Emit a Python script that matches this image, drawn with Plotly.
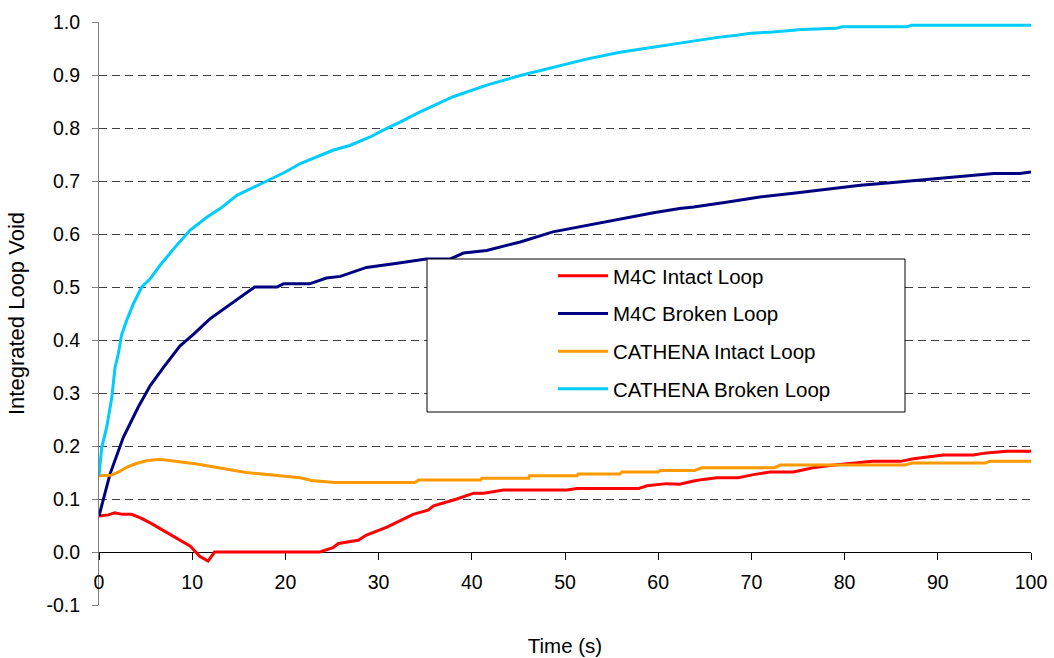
import plotly.graph_objects as go

# ---- data -------------------------------------------------------------
# M4C Intact Loop
m4c_intact_t = [0, 1, 1.7, 2.5, 3.5, 4.5, 5.5, 6.4, 7.3, 8.5, 9.8, 10.8, 11.7, 12.4,
                23.7, 25.1, 25.7, 27.8, 28.7, 30.9, 32.3, 33.7, 35.3, 35.9, 38.4, 40.2,
                41.3, 43.4, 50.2, 51.3, 57.9, 58.8, 60.9, 62.3, 63.8, 64.8, 66.3, 68.6,
                70.2, 72, 74.5, 76.6, 78.4, 80.9, 83, 86, 87.4, 90.6, 93.8, 95.2, 97.4, 100]
m4c_intact_v = [0.068, 0.070, 0.074, 0.071, 0.071, 0.064, 0.055, 0.046, 0.036, 0.025,
                0.011, -0.008, -0.017, 0.0, 0.0, 0.008, 0.016, 0.022, 0.032, 0.047,
                0.059, 0.071, 0.079, 0.087, 0.100, 0.111, 0.111, 0.117, 0.117, 0.120,
                0.120, 0.125, 0.129, 0.128, 0.134, 0.137, 0.140, 0.140, 0.146, 0.151,
                0.151, 0.159, 0.163, 0.167, 0.171, 0.171, 0.176, 0.183, 0.183, 0.187,
                0.190, 0.190]

# M4C Broken Loop
m4c_broken_t = [0, 1.18, 2.6, 4.2, 5.5, 6.9, 8.7, 10.1, 11.9, 13.7, 15.5, 16.7, 19.1,
                19.8, 22.6, 24.4, 25.9, 28.7, 32, 35.1, 37.7, 39.1, 41.6, 43.4, 45.2,
                48.7, 52.3, 55.9, 59.5, 62.3, 63.8, 67.3, 70.9, 74.5, 78.1, 81.7, 85.2,
                88.8, 92.4, 96, 98.8, 100]
m4c_broken_v = [0.068, 0.147, 0.216, 0.273, 0.314, 0.348, 0.389, 0.410, 0.440, 0.462,
                0.484, 0.500, 0.500, 0.506, 0.506, 0.517, 0.520, 0.537, 0.545, 0.553,
                0.553, 0.564, 0.569, 0.577, 0.585, 0.604, 0.616, 0.629, 0.640, 0.648,
                0.651, 0.660, 0.670, 0.677, 0.684, 0.692, 0.697, 0.703, 0.708, 0.714,
                0.714, 0.717]

# CATHENA Intact Loop
cathena_intact_t = [0, 1.3, 2, 3, 4, 5.1, 6.5, 8, 9, 10.5, 12.2, 14, 15.8, 17.5, 19.4,
                    21.6, 22.8, 25.3, 33.9, 34.3, 40.9, 41.1, 46.1, 46.2, 51.3, 51.4,
                    55.9, 56.1, 60, 60.2, 63.9, 64.7, 72.5, 73.1, 86.5, 87.2, 95.1,
                    95.6, 100]
cathena_intact_v = [0.144, 0.145, 0.150, 0.160, 0.167, 0.172, 0.175, 0.172, 0.169,
                    0.166, 0.161, 0.156, 0.150, 0.147, 0.144, 0.140, 0.135, 0.131,
                    0.131, 0.136, 0.136, 0.139, 0.139, 0.144, 0.144, 0.147, 0.147,
                    0.151, 0.151, 0.154, 0.154, 0.159, 0.159, 0.164, 0.164, 0.168,
                    0.168, 0.171, 0.171]

# CATHENA Broken Loop
cathena_broken_t = [0, 0.29, 0.82, 1.36, 1.72, 2.07, 2.43, 2.97, 3.68, 4.58, 5.47, 6.55,
                    8.3, 9.76, 11.6, 13.0, 14.8, 16.6, 18, 20, 21.6, 25.1, 26.9, 29.1,
                    30.5, 32.3, 34.4, 38, 41.6, 45.2, 48.7, 52.3, 55.9, 59.5, 62, 64.7,
                    66.4, 68.4, 70, 72.3, 75.4, 79.1, 79.7, 86.7, 87.2, 100]
cathena_broken_v = [0.144, 0.197, 0.235, 0.290, 0.348, 0.374, 0.410, 0.437, 0.468,
                    0.500, 0.515, 0.541, 0.578, 0.607, 0.632, 0.648, 0.673, 0.689,
                    0.700, 0.717, 0.733, 0.758, 0.767, 0.783, 0.796, 0.811, 0.830,
                    0.859, 0.881, 0.899, 0.914, 0.930, 0.943, 0.953, 0.960, 0.967,
                    0.971, 0.975, 0.979, 0.981, 0.986, 0.988, 0.991, 0.991, 0.994,
                    0.994]

y_tick_vals = [-0.1, 0.0, 0.1, 0.2, 0.3, 0.4, 0.5, 0.6, 0.7, 0.8, 0.9, 1.0]
y_tick_text = ["-0.1", "0.0", "0.1", "0.2", "0.3", "0.4", "0.5", "0.6", "0.7",
               "0.8", "0.9", "1.0"]
x_tick_vals = [0, 10, 20, 30, 40, 50, 60, 70, 80, 90, 100]

series = [
    ("M4C Intact Loop", m4c_intact_t, m4c_intact_v, "#FF0000"),
    ("M4C Broken Loop", m4c_broken_t, m4c_broken_v, "#000080"),
    ("CATHENA Intact Loop", cathena_intact_t, cathena_intact_v, "#FF9900"),
    ("CATHENA Broken Loop", cathena_broken_t, cathena_broken_v, "#00CCFF"),
]

FONT = "Liberation Sans, Arial, sans-serif"

fig = go.Figure()
for name, t, v, color in series:
    fig.add_trace(go.Scatter(
        x=t, y=v, mode="lines", name=name, legendgroup=name,
        line=dict(color=color, width=3),
    ))

# legend frame (white box with a thin black border)
W, H = 1054, 658
L, R, T, B = 99, 23, 22, 53
pw, ph = W - L - R, H - T - B


def px_x(p):
    return (p - L) / pw


def px_y(p):
    return (H - B - p) / ph


fig.add_shape(type="rect", xref="paper", yref="paper",
              x0=px_x(427), x1=px_x(905), y0=px_y(412), y1=px_y(259),
              fillcolor="white", line=dict(color="black", width=1), layer="above")

fig.update_layout(
    width=W, height=H,
    margin=dict(l=L, r=R, t=T, b=B, autoexpand=False),
    paper_bgcolor="white", plot_bgcolor="white",
    font=dict(family=FONT, size=19.5, color="black"),
    showlegend=True,
    legend=dict(
        x=px_x(553), y=px_y(256), xanchor="left", yanchor="top",
        bgcolor="rgba(0,0,0,0)", borderwidth=0,
        font=dict(family=FONT, size=20.5, color="black"),
        tracegroupgap=8, itemwidth=50,
    ),
    xaxis=dict(
        range=[0, 100], tickvals=x_tick_vals,
        showgrid=False, zeroline=False,
        showline=True, linecolor="black", linewidth=1,
        anchor="free", position=0.1 / 1.1,
        ticks="outside", ticklen=7, tickcolor="black", tickwidth=1,
        ticklabelstandoff=6, automargin=False,
        layer="below traces",
        title=dict(text="Time (s)", font=dict(size=20.5), standoff=46),
    ),
    yaxis=dict(
        range=[-0.1, 1.0], tickvals=y_tick_vals, ticktext=y_tick_text,
        showgrid=True, gridcolor="#404040", gridwidth=1, griddash="8px,5px",
        zeroline=False,
        showline=True, linecolor="#808080", linewidth=1,
        ticks="outside", ticklen=6, tickcolor="#808080", tickwidth=1,
        ticklabelstandoff=8, automargin=False,
        layer="below traces",
        title=dict(text="Integrated Loop Void", font=dict(size=22), standoff=15),
    ),
)

fig.write_html("out.html")
